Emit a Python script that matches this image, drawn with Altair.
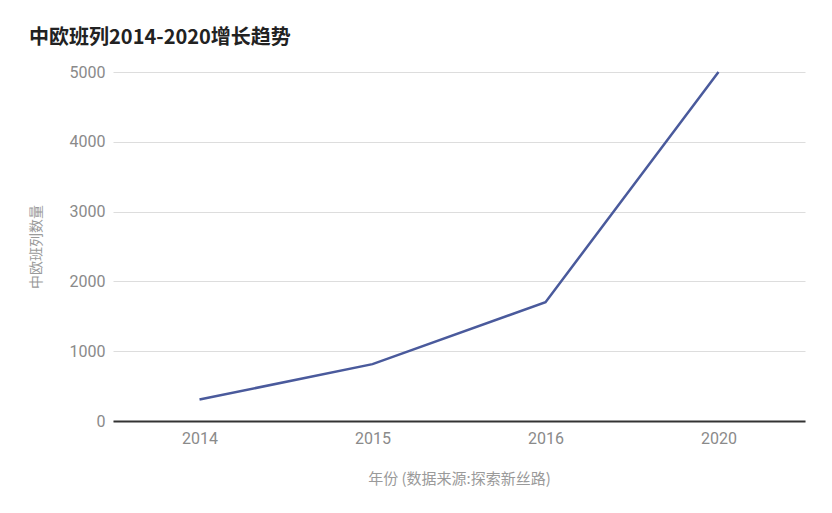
import altair as alt
import pandas as pd

years = ["2014", "2015", "2016", "2020"]
trains = [308, 815, 1702, 5000]

df = pd.DataFrame({"year": years, "count": trains})

chart = alt.Chart(df).mark_line(color="#4a5a9c", strokeWidth=2.5).encode(
    x=alt.X("year:N", sort=years,
            scale=alt.Scale(type="point", padding=0.5),
            axis=alt.Axis(title="年份 (数据来源:探索新丝路)", labelAngle=0,
                          ticks=False, domainColor="#333333", domainWidth=2,
                          labelColor="#8a8a8a", labelFontSize=16, labelFont="Roboto",
                          labelPadding=9, titleColor="#9a9a9a", titleFontSize=15,
                          titleFont="Noto Sans CJK SC", titleFontWeight="normal",
                          titlePadding=25, grid=False)),
    y=alt.Y("count:Q", scale=alt.Scale(domain=[0, 5000]),
            axis=alt.Axis(title="中欧班列数量", values=[0, 1000, 2000, 3000, 4000, 5000],
                          format="d",
                          ticks=False, domain=False, gridColor="#dddddd",
                          labelColor="#8a8a8a", labelFontSize=16, labelFont="Roboto",
                          labelPadding=8, titleColor="#9a9a9a", titleFontSize=14,
                          titleFont="Noto Sans CJK SC", titleFontWeight="normal",
                          titlePadding=26)),
).properties(
    width=692, height=349,
    title=alt.TitleParams("中欧班列2014-2020增长趋势", anchor="start", dx=0,
                          fontSize=20, font="Noto Sans CJK SC", fontWeight="bold",
                          color="#222222", offset=16),
    autosize=alt.AutoSizeParams(type="none"),
    padding={"left": 105, "top": 64, "right": 19, "bottom": 84},
).configure(background="white", view=alt.ViewConfig(stroke=None))

chart.save("out.html", embed_options={"renderer": "svg", "actions": False})
